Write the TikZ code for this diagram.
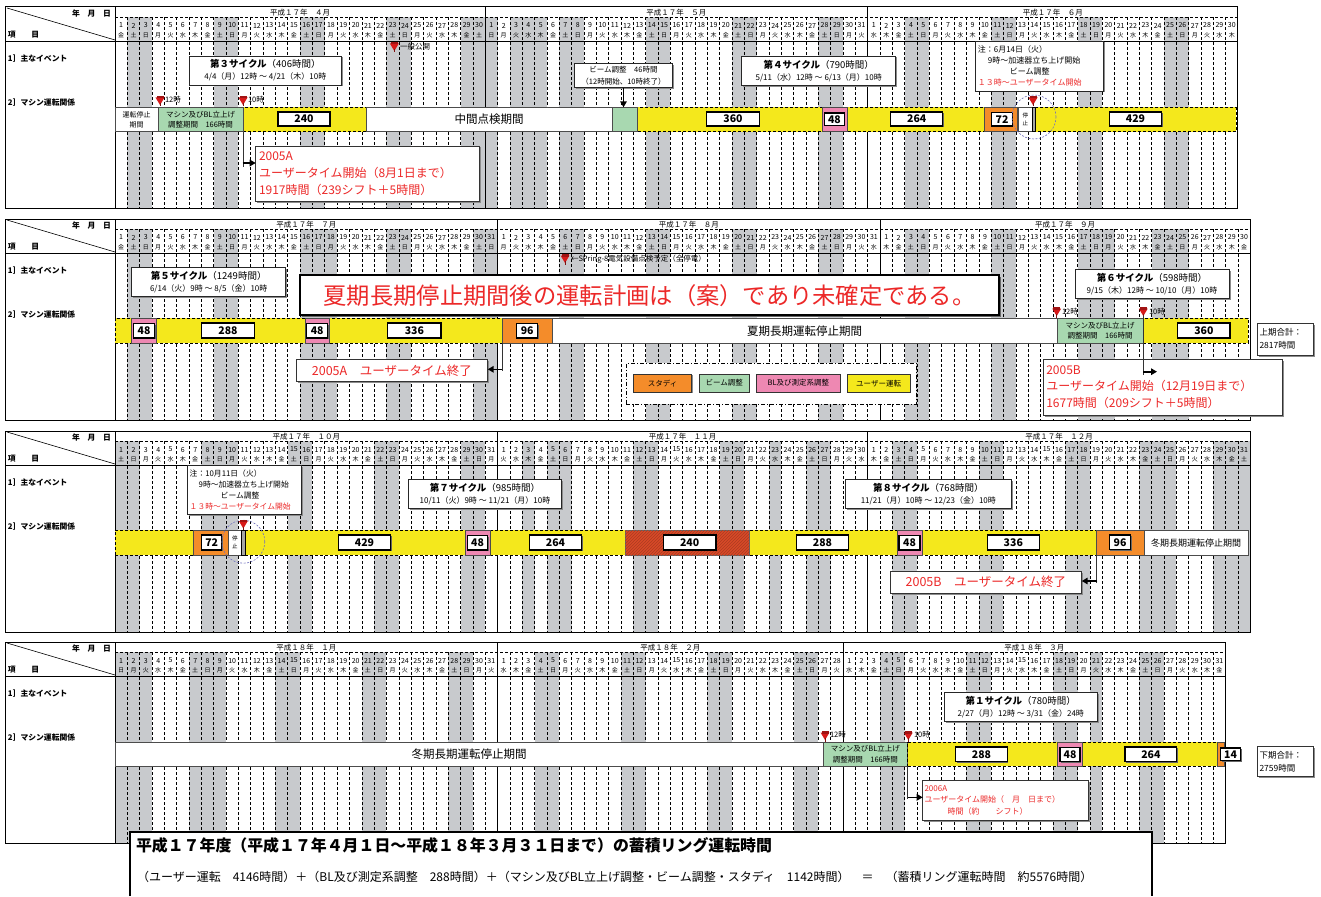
\documentclass[tikz,border=0pt]{standalone}
\usepackage{fontspec}
\setmainfont{Noto Sans CJK JP}
\usetikzlibrary{arrows.meta,shadows,patterns}
\definecolor{wkgray}{RGB}{200,202,205}
\definecolor{cyellow}{RGB}{244,232,28}
\definecolor{cgreen}{RGB}{168,216,176}
\definecolor{cpink}{RGB}{238,136,178}
\definecolor{corange}{RGB}{244,140,42}
\definecolor{cred}{RGB}{236,40,40}
\definecolor{chatch}{RGB}{216,74,40}
\definecolor{pinred}{RGB}{215,25,25}
\definecolor{cblue}{RGB}{110,110,190}
\newcommand\fsz[1]{\fontsize{#1}{#1}\selectfont}
\newcommand\fszl[2]{\fontsize{#1}{#2}\selectfont}
\newcommand\colw{12.34}
\newcommand\seg[7]{\node[#6,minimum width={(#3)-(#2)},minimum height={(#5)-(#4)}] (#1) at ({((#2)+(#3))/2},{((#4)+(#5))/2}) {#7};}
\newcommand\cyc[3]{\fszl{9.5}{13.5}{\bfseries #1}（#2時間）\\\fszl{8}{13.5}#3}
\tikzset{
  every node/.style={inner sep=0pt,outer sep=0pt},
  griddash/.style={line width=0.6pt,dash pattern=on 3pt off 2pt},
  hdr/.style={font=\bfseries\fsz{7.8}},
  mtitle/.style={font=\fsz{7.5}},
  dnum/.style={font=\fsz{7}},
  dwd/.style={font=\fsz{6}},
  tlbl/.style={font=\fsz{7.5}},
  segw/.style={draw=black!70,fill=white,line width=0.9pt,align=center},
  segg/.style={draw=black!70,fill=cgreen,line width=0.9pt,align=center,font=\fszl{7.5}{10.5}},
  segy/.style={draw=black,fill=cyellow,line width=0.8pt,dash pattern=on 3pt off 2pt},
  segp/.style={draw=black!70,fill=cpink,line width=1pt},
  sego/.style={draw=black!70,fill=corange,line width=1pt},
  segh/.style={draw=black!60,fill=chatch,line width=0.9pt,postaction={pattern=north east lines,pattern color=chatch!80!black}},
  stripst/.style={draw=black,fill=black!35,line width=0.7pt},
  numb/.style={draw=black,fill=white,line width=1.1pt,font=\bfseries\fsz{10.5},drop shadow={shadow xshift=1pt,shadow yshift=-1pt,fill=black!60,opacity=1}},
  infob/.style={draw=black!85,fill=white,line width=0.9pt,align=center,drop shadow={shadow xshift=1.5pt,shadow yshift=-1.5pt,fill=black!45,opacity=1}},
  notebox/.style={infob,align=left,font=\fszl{8}{11}},
  ubox/.style={draw=black!80,fill=white,line width=0.9pt,align=left,text=cred,drop shadow={shadow xshift=1.5pt,shadow yshift=-1.5pt,fill=black!45,opacity=1}},
  sumbox/.style={draw=black!80,fill=white,line width=0.9pt,align=left,font=\fszl{8.5}{13},drop shadow={shadow xshift=1.5pt,shadow yshift=-1.5pt,fill=black!45,opacity=1}},
  legi/.style={draw=black!80,line width=1pt,font=\fsz{7.5},drop shadow={shadow xshift=1pt,shadow yshift=-1pt,fill=black!45,opacity=1}},
  legbox/.style={draw=black,fill=white,line width=0.8pt,dash pattern=on 4pt off 2pt on 1pt off 2pt},
  circ/.style={circle,draw=cblue,line width=0.6pt,dash pattern=on 2pt off 1.5pt},
  conn/.style={line width=0.7pt,draw=black!80},
  bigarrow/.style={line width=1.6pt,-{Triangle[length=6pt,width=6.5pt]}},
  redpin/.pic={\fill[pinred] (-4.5,-7.5) -- (4.5,-7.5) -- (0,0) -- cycle;
               \fill[pinred!75!black] (-3.5,-9) rectangle (3.5,-6.5);
               \draw[pinred!60!black,line width=0.8pt] (0,-2) -- (0,1.5);}
}
\newcommand\drawpanel[6]{%
  \fill[white] (5,#2) rectangle (#6,#2+201);
  \pgfmathtruncatemacro\lastday{#3-1}
  \foreach \ii in {0,...,\lastday} {
    \pgfmathtruncatemacro\wdn{mod(\ii+#4,7)}
    \ifnum\wdn=1 \fill[wkgray] ({115+\ii*\colw},#2+10) rectangle ++(\colw,191);\fi
    \ifnum\wdn=2 \fill[wkgray] ({115+\ii*\colw},#2+10) rectangle ++(\colw,191);\fi
  }
  \foreach \hh in {#5} {\fill[wkgray] ({115+\hh*\colw},#2+10) rectangle ++(\colw,191);}
  \foreach \ii in {1,...,\lastday} {\draw[griddash] ({115+\ii*\colw},#2+10) -- ++(0,191);}
  \draw[griddash] (115,#2+10) -- (#6,#2+10);
  \draw[line width=0.8pt] (5,#2+34.5) -- (#6,#2+34.5);
  \draw[line width=0.8pt] (115,#2) -- (115,#2+201);
  \draw[line width=0.6pt] (7,#2+1) -- (115,#2+33);
  \draw[line width=1pt] (5,#2) rectangle (#6,#2+201);
  \node[hdr,anchor=east] (#1ymd) at (111,#2+6.3) {年　月　日};
  \node[hdr,anchor=west] (#1item) at (8,#2+28) {項　　目};
  \node[hdr,anchor=west] (#1ev) at (8,#2+51.5) {1］主なイベント};
  \node[hdr,anchor=west] (#1mc) at (8,#2+95.5) {2］マシン運転関係};
}
\newcommand\drawmonth[6]{%
  \node[mtitle] (#1m#3) at ({115+(#3+#4/2)*\colw},#2+6) {#6};
  \foreach \dd in {1,...,#4} {
    \pgfmathtruncatemacro\idx{#3+\dd-1}
    \pgfmathtruncatemacro\wdn{mod(\idx+#5,7)}
    \node[dnum] (#1d\idx) at ({115+(\idx+0.5)*\colw},#2+18.5) {\dd};
    \node[dwd] (#1w\idx) at ({115+(\idx+0.5)*\colw},#2+28) {\ifcase\wdn 金\or 土\or 日\or 月\or 火\or 水\or 木\fi};
  }
  \ifnum#3>0 \draw[line width=0.8pt] ({115+#3*\colw},#2) -- ++(0,201);\fi
}
\begin{document}
\begin{tikzpicture}[x=1pt,y=-1pt]
\useasboundingbox (0,0) rectangle (1321,896);
\fill[white] (0,0) rectangle (1321,896);

%================ Panel 1 =================
\drawpanel{pa}{7}{91}{0}{28,32,33,34}{1237.9}
\drawmonth{pa}{7}{0}{30}{0}{平成１７年　４月}
\drawmonth{pa}{7}{30}{31}{0}{平成１７年　５月}
\drawmonth{pa}{7}{61}{30}{0}{平成１７年　６月}

\seg{payA}{243}{1236}{107.3}{131.7}{segy}{}
\seg{pastop}{115}{158}{107.3}{131.7}{segw,font=\fszl{7}{10}}{運転停止\\期間}
\seg{pag1}{158}{243}{107.3}{131.7}{segg}{マシン及びBL立上げ\\調整期間　166時間}
\seg{pamid}{366}{612}{107.3}{131.7}{segw,font=\fsz{11.5}}{中間点検期間}
\seg{pag2}{612}{637}{107.3}{131.7}{segg}{}
\seg{pan240}{278}{330}{112}{126}{numb}{240}
\seg{pan360}{706.7}{759.3}{112}{126}{numb}{360}
\seg{papk}{822.3}{847.3}{107.3}{131.7}{segp}{}
\seg{pan48}{824.5}{844.3}{113}{125.5}{numb}{48}
\seg{pan264}{890.7}{942.7}{112}{126}{numb}{264}
\seg{paor}{984}{1017.7}{107.3}{131.7}{sego}{}
\seg{pan72}{991.7}{1012.3}{112.5}{126}{numb}{72}
\seg{past}{1018.3}{1032.3}{107.3}{131.7}{segw,font=\fszl{5.5}{8}}{停\\止}
\seg{pastrip}{1032.3}{1035}{107.3}{131.7}{stripst}{}
\seg{pan429}{1109.3}{1161.7}{112}{126}{numb}{429}
\node[circ,minimum size=44pt] (pacirc) at (1034,117) {};

\coordinate (papa) at (160,105); \pic at (papa) {redpin};
\node[tlbl,anchor=west] (pata) at (165,100) {12時};
\coordinate (papb) at (243,105); \pic at (papb) {redpin};
\node[tlbl,anchor=west] (patb) at (248,100) {10時};
\coordinate (papc) at (394.3,51); \pic at (papc) {redpin};
\node[tlbl,anchor=west] (patc) at (400,47) {一般公開};
\coordinate (papd) at (1033,105); \pic at (papd) {redpin};

\seg{pacy3}{189}{341.7}{56}{85}{infob}{\cyc{第３サイクル}{406}{4/4（月）12時 ～ 4/21（木）10時}}
\seg{paba}{574.3}{672.7}{63.3}{87.7}{infob,font=\fszl{7.5}{11.5}}{ビーム調整　46時間\\（12時開始、10時終了）}
\draw[bigarrow] (paba.south) -- (paba.south |- pag2.north);
\seg{pacy4}{741.7}{895.7}{56}{85.3}{infob}{\cyc{第４サイクル}{790}{5/11（水）12時 ～ 6/13（月）10時}}
\seg{panote}{975.7}{1103}{41}{91}{notebox,text width=123pt}{注：6月14日（火）\\\hspace*{10pt}9時～加速器立ち上げ開始\\\hspace*{32pt}ビーム調整\\\textcolor{cred}{１３時～ユーザータイム開始}}
\seg{paua}{255.7}{479.3}{146}{201}{ubox,text width=217pt,font=\fszl{12}{17}}{2005A\\ユーザータイム開始（8月1日まで）\\1917時間（239シフト＋5時間）}
\coordinate (paar) at (242.5,163);
\draw[conn] (pag1.south east) -- ++(0,35);
\draw[bigarrow] (paar) -- (paua.west |- paar);

%================ Panel 2 =================
\drawpanel{pb}{219}{92}{0}{17,80,84}{1250.3}
\drawmonth{pb}{219}{0}{31}{0}{平成１７年　７月}
\drawmonth{pb}{219}{31}{31}{0}{平成１７年　８月}
\drawmonth{pb}{219}{62}{30}{0}{平成１７年　９月}

\seg{pbyA}{115}{502.7}{318.3}{343.3}{segy}{}
\seg{pbpk1}{131.7}{156.7}{318.3}{343.3}{segp}{}
\seg{pbn48a}{133.3}{154.7}{323.5}{338}{numb}{48}
\seg{pbn288}{201.7}{254.3}{323}{338}{numb}{288}
\seg{pbpk2}{305}{329.3}{318.3}{343.3}{segp}{}
\seg{pbn48b}{306.7}{327.7}{323.5}{338}{numb}{48}
\seg{pbn336}{387.7}{441}{323}{338}{numb}{336}
\seg{pbor}{502.7}{552}{318.3}{343.3}{sego}{}
\seg{pbn96}{516.7}{537.7}{323.5}{338}{numb}{96}
\seg{pbsum}{552}{1057}{318.3}{343.3}{segw,font=\fsz{11.5}}{夏期長期運転停止期間}
\seg{pbg}{1057}{1143.3}{318.3}{343.3}{segg}{マシン及びBL立上げ\\調整期間　166時間}
\seg{pbyB}{1143.3}{1248.3}{318.3}{343.3}{segy}{}
\seg{pbn360}{1177.7}{1230}{323}{338}{numb}{360}

\coordinate (pbpa) at (1056.7,316); \pic at (pbpa) {redpin};
\node[tlbl,anchor=west] (pbta) at (1062,311.7) {12時};
\coordinate (pbpb) at (1143.3,316); \pic at (pbpb) {redpin};
\node[tlbl,anchor=west] (pbtb) at (1149,311.7) {10時};
\coordinate (pbpc) at (565,263); \pic at (pbpc) {redpin};
\node[tlbl,anchor=west] (pbtc) at (571,259) {←SPring-8電気設備点検予定（全停電）};

\seg{pbcy5}{131.7}{285.7}{267.3}{296.7}{infob}{\cyc{第５サイクル}{1249}{6/14（火）9時 ～ 8/5（金）10時}}
\seg{pbcy6}{1075}{1229}{269.3}{298.3}{infob}{\cyc{第６サイクル}{598}{9/15（木）12時 ～ 10/10（月）10時}}
\seg{pbbig}{300}{999}{275}{315.3}{draw=black,fill=white,line width=2.2pt,text=cred,font=\fsz{23.3},drop shadow={shadow xshift=1.5pt,shadow yshift=-1.5pt,fill=black!60,opacity=1}}{夏期長期停止期間後の運転計画は（案）であり未確定である。}
\seg{pbtot}{1257.7}{1313.3}{323.3}{355}{sumbox,text width=52pt}{上期合計：\\2817時間}
\seg{pbue}{296}{487.7}{359.3}{381.7}{ubox,align=center,font=\fsz{12.5}}{2005A　ユーザータイム終了}
\coordinate (pbar) at (502,369.3);
\draw[conn] (pbyA.south east) -- ++(0,28);
\draw[bigarrow] (pbar) -- (pbue.east |- pbar);
\seg{pbub}{1043.3}{1282.3}{359.3}{415}{ubox,text width=233pt,font=\fszl{12}{16.7}}{2005B\\ユーザータイム開始（12月19日まで）\\1677時間（209シフト＋5時間）}
\coordinate (pbbr) at (1143.3,371.7);
\coordinate (pbbe) at (1157,371.7);
\draw[conn] (pbpb) -- ++(0,58.5);
\draw[bigarrow] (pbbr) -- (pbbe);

\seg{pbleg}{626}{916}{363.3}{404}{legbox}{}
\seg{pbl1}{633.3}{691.7}{374}{392.3}{legi,fill=corange}{スタディ}
\seg{pbl2}{699.3}{749.3}{374}{392.3}{legi,fill=cgreen}{ビーム調整}
\seg{pbl3}{756.7}{840}{374}{392.3}{legi,fill=cpink}{BL及び測定系調整}
\seg{pbl4}{847.3}{910}{374}{392.3}{legi,fill=cyellow}{ユーザー運転}

%================ Panel 3 =================
\drawpanel{pc}{431}{92}{1}{9,33,53,83,89,90,91}{1250.3}
\drawmonth{pc}{431}{0}{31}{1}{平成１７年　１０月}
\drawmonth{pc}{431}{31}{30}{1}{平成１７年　１１月}
\drawmonth{pc}{431}{61}{31}{1}{平成１７年　１２月}

\seg{pcyA}{115}{1096.7}{530.3}{555}{segy}{}
\seg{pcor1}{193.3}{228.3}{530.3}{555}{sego}{}
\seg{pcn72}{201.7}{221.7}{535}{550}{numb}{72}
\seg{pcst}{228.3}{241.3}{530.3}{555}{segw,font=\fszl{5.5}{8}}{停\\止}
\seg{pcstrip}{241.3}{245}{530.3}{555}{stripst}{}
\seg{pcn429}{338.3}{390.7}{535}{550}{numb}{429}
\seg{pcpk1}{465}{490}{530.3}{555}{segp}{}
\seg{pcn48a}{467.3}{487.7}{535.5}{550}{numb}{48}
\seg{pcn264}{529.3}{581.7}{535}{550}{numb}{264}
\seg{pchat}{625}{749.3}{530.3}{555}{segh}{}
\seg{pcn240}{663.3}{716}{535}{550}{numb}{240}
\seg{pcn288}{796.7}{848.3}{535}{550}{numb}{288}
\seg{pcpk2}{897.3}{922.3}{530.3}{555}{segp}{}
\seg{pcn48b}{899}{920}{535.5}{550}{numb}{48}
\seg{pcn336}{987.3}{1039.3}{535}{550}{numb}{336}
\seg{pcor2}{1096.7}{1144}{530.3}{555}{sego}{}
\seg{pcn96}{1109.3}{1130.7}{535}{549.5}{numb}{96}
\seg{pcwin}{1144}{1248.3}{530.3}{555}{segw,font=\fsz{9}}{冬期長期運転停止期間}
\node[circ,minimum size=43pt] (pccirc) at (243.3,541.7) {};
\coordinate (pcpa) at (243.3,528.5); \pic at (pcpa) {redpin};

\seg{pcnote}{187.7}{301.7}{465.7}{514.3}{notebox,text width=110pt,font=\fszl{7.8}{11}}{注：10月11日（火）\\\hspace*{9pt}9時～加速器立ち上げ開始\\\hspace*{31pt}ビーム調整\\\textcolor{cred}{１３時～ユーザータイム開始}}
\seg{pccy7}{408.3}{561.7}{479}{508.3}{infob}{\cyc{第７サイクル}{985}{10/11（火）9時 ～ 11/21（月）10時}}
\seg{pccy8}{845}{1011.7}{479}{508.3}{infob}{\cyc{第８サイクル}{768}{11/21（月）10時 ～ 12/23（金）10時}}
\seg{pcue}{890}{1081.7}{571}{593.3}{ubox,align=center,font=\fsz{12.5}}{2005B　ユーザータイム終了}
\coordinate (pcar) at (1097.3,581);
\draw[conn] (pcyA.south east) -- ++(0,28);
\draw[bigarrow] (pcar) -- (pcue.east |- pcar);

%================ Panel 4 =================
\drawpanel{pd}{642}{90}{2}{1,2,8,79}{1225.6}
\drawmonth{pd}{642}{0}{31}{2}{平成１８年　１月}
\drawmonth{pd}{642}{31}{28}{2}{平成１８年　２月}
\drawmonth{pd}{642}{59}{31}{2}{平成１８年　３月}

\seg{pdwin}{115}{823}{742.3}{766}{segw,font=\fsz{11.5}}{冬期長期運転停止期間}
\seg{pdg}{823}{907.7}{742.3}{766}{segg}{マシン及びBL立上げ\\調整期間　166時間}
\seg{pdyA}{907.7}{1217.3}{742.3}{766}{segy}{}
\seg{pdn288}{955.7}{1007.3}{747}{761.5}{numb}{288}
\seg{pdpk}{1057.7}{1082.3}{742.3}{766}{segp}{}
\seg{pdn48}{1060}{1080}{747.5}{761.5}{numb}{48}
\seg{pdn264}{1125}{1176.7}{747}{761.5}{numb}{264}
\seg{pdor}{1217.3}{1224.5}{742.3}{766}{sego}{}
\seg{pdn14}{1220.5}{1240.7}{748}{760.5}{numb}{14}

\coordinate (pdpa) at (825,740); \pic at (pdpa) {redpin};
\node[tlbl,anchor=west] (pdta) at (830,735) {12時};
\coordinate (pdpb) at (908.3,740); \pic at (pdpb) {redpin};
\node[tlbl,anchor=west] (pdtb) at (914,735) {10時};

\seg{pdcy1}{944.3}{1097.3}{692.3}{721}{infob}{\cyc{第１サイクル}{780}{2/27（月）12時 ～ 3/31（金）24時}}
\seg{pdtot}{1257.7}{1313.3}{746.7}{776.7}{sumbox,text width=52pt}{下期合計：\\2759時間}
\seg{pdua}{922.7}{1088.3}{780}{820}{ubox,text width=162pt,font=\fszl{8}{11.5}}{2006A\\ユーザータイム開始（　月　日まで）\\\hspace*{23pt}時間（約　　シフト）}
\coordinate (pdar) at (908.3,797.3);
\draw[conn] (pdg.south east) -- ++(0,33);
\draw[bigarrow] (pdar) -- (pdua.west |- pdar);

%================ Summary =================
\node[fill=white,minimum width=1022pt,minimum height=64.3pt] (sumb) at (641,863.85) {};
\draw[line width=2.2pt] (sumb.south west) |- (sumb.north east) -- (sumb.south east);
\node[anchor=west,font=\bfseries\fsz{15.9}] (sumt) at (136,845) {平成１７年度（平成１７年４月１日～平成１８年３月３１日まで）の蓄積リング運転時間};
\node[anchor=west,font=\fsz{12}] (suml) at (137,876.5) {（ユーザー運転　4146時間）＋（BL及び測定系調整　288時間）＋（マシン及びBL立上げ調整・ビーム調整・スタディ　1142時間）　＝　（蓄積リング運転時間　約5576時間）};
\end{tikzpicture}
\end{document}
